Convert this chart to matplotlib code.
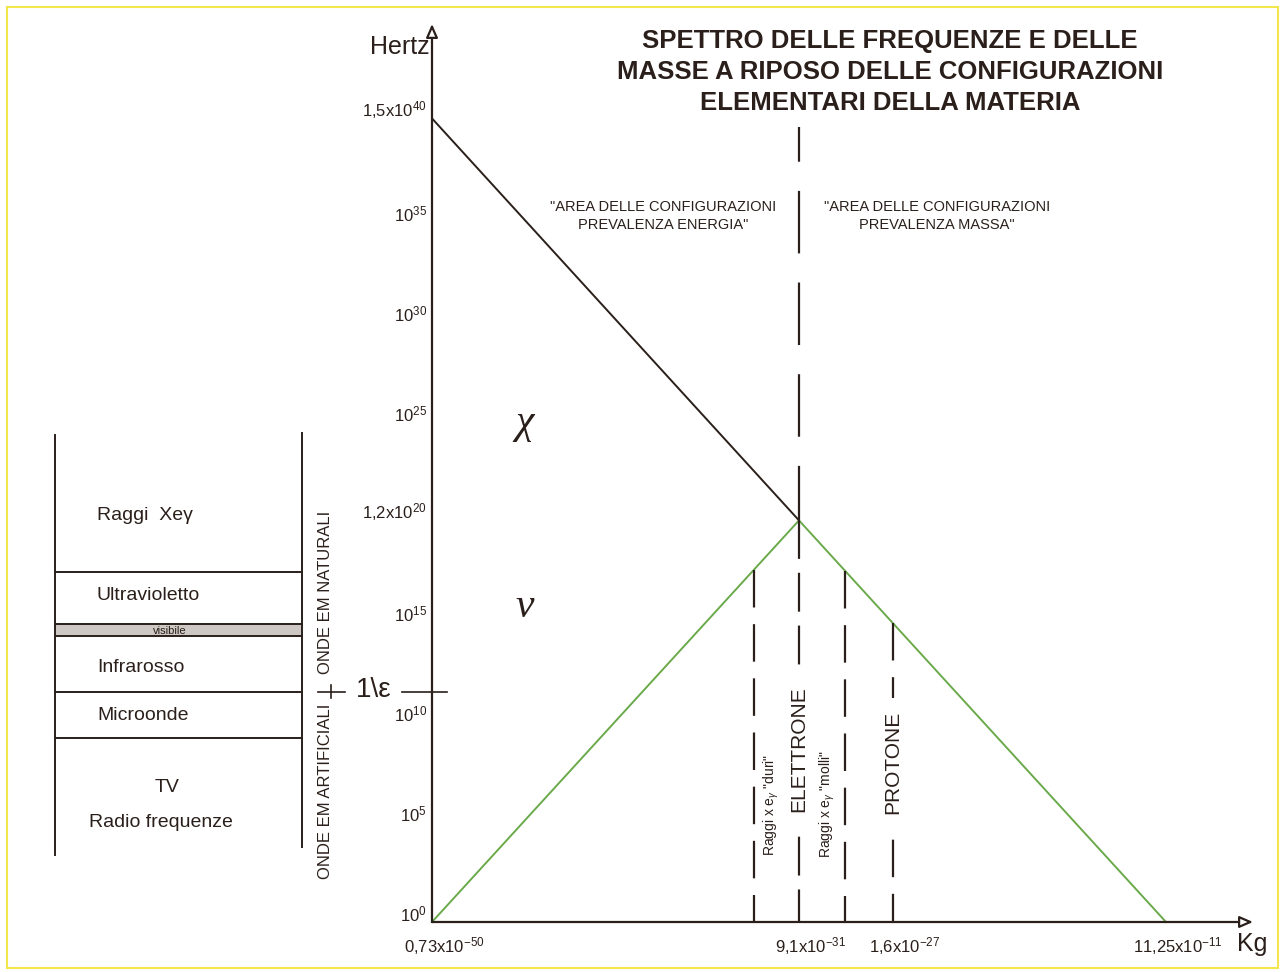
import matplotlib
matplotlib.use("Agg")
import matplotlib.pyplot as plt
import numpy as np
from matplotlib import font_manager
from matplotlib.patches import Rectangle

# ---------------------------------------------------------------------------
# data (y values are log10 of frequency in Hz, x is position along mass axis)
# ---------------------------------------------------------------------------
freq_ticks = [0, 5, 10, 15, 20.08, 25, 30, 35, 40.18]
freq_tick_labels = ["10$^{0}$", "10$^{5}$", "10$^{10}$", "10$^{15}$", "1,2x10$^{20}$",
                    "10$^{25}$", "10$^{30}$", "10$^{35}$", "1,5x10$^{40}$"]

mass_pos = [0, 367, 461, 734]
mass_labels = ["0,73x10$^{-50}$", "9,1x10$^{-31}$", "1,6x10$^{-27}$", "11,25x10$^{-11}$"]

chi_x = [0, 367]
chi_y = [40.18, 20.08]
nu_x = [0, 367, 734]
nu_y = [0, 20.08, 0]

hard_x = 322      # raggi x e gamma "duri"
soft_x = 413      # raggi x e gamma "molli"
electron_x = 367
proton_x = 461
one_eps = 11.5    # 1\epsilon level

band_names = ["Raggi  Xeγ", "Ultravioletto", "visibile", "Infrarosso", "Microonde"]
band_label_y = [20.35, 16.35, 14.55, 12.7, 10.35]
band_edges = [24.35, 17.5, 14.9, 14.3, 11.5, 9.2, 3.35]

# ---------------------------------------------------------------------------
names = {f.name for f in font_manager.fontManager.ttflist}
NARROW = "Liberation Sans Narrow" if "Liberation Sans Narrow" in names else "Liberation Sans"
SANS = "Liberation Sans"

plt.rcParams["font.family"] = [SANS, "DejaVu Sans"]
plt.rcParams["mathtext.fontset"] = "custom"
plt.rcParams["mathtext.rm"] = NARROW
plt.rcParams["mathtext.it"] = NARROW + ":italic"
plt.rcParams["mathtext.bf"] = NARROW + ":bold"
plt.rcParams["lines.scale_dashes"] = False

INK = "#2a1f1a"
GREEN = "#6aaa4a"
PX = 20.0  # pixels per decade


def X(px):
    return px - 432


def Y(py):
    return (922 - py) / PX


fig = plt.figure(figsize=(12.83, 9.72), dpi=100)
ax = fig.add_axes([0, 0, 1, 1])
ax.set_xlim(X(0), X(1283))
ax.set_ylim(Y(972), Y(0))
ax.axis("off")

# yellow frame
fig.patches.append(Rectangle((7 / 1283, 1 - 968 / 972), 1271 / 1283, 961 / 972,
                             transform=fig.transFigure, fill=False,
                             ec="#f3e64a", lw=1.5))

# axes with hollow arrow heads
ax.annotate("", xy=(0, Y(24)), xytext=(0, 0),
            arrowprops=dict(arrowstyle="-|>,head_length=0.8,head_width=0.35",
                            ec=INK, fc="white", lw=1.6, shrinkA=0, shrinkB=0))
ax.annotate("", xy=(X(1253), 0), xytext=(0, 0),
            arrowprops=dict(arrowstyle="-|>,head_length=0.8,head_width=0.35",
                            ec=INK, fc="white", lw=1.6, shrinkA=0, shrinkB=0))
ax.text(X(430), Y(47), "Hertz", ha="right", va="center", fontsize=18, color=INK)
ax.text(X(1252), Y(944), "Kg", ha="center", va="center", fontsize=18, color=INK)

# tick labels
for v, lab in zip(freq_ticks, freq_tick_labels):
    ax.text(X(427), v + 0.4, lab, ha="right", va="center", fontsize=12,
            family=NARROW, color=INK)
for x, lab in zip(mass_pos, mass_labels):
    ax.text(x + 12, Y(946), lab, ha="center", va="center", fontsize=12,
            family=NARROW, color=INK)

# main curves
ax.plot(chi_x, chi_y, color=INK, lw=1.4, solid_capstyle="butt")
ax.plot(nu_x, nu_y, color=GREEN, lw=1.4)

# electron line: long dashes above apex, shorter below
ax.plot([electron_x, electron_x], [Y(127), chi_y[-1]], color=INK, lw=1.6,
        linestyle=(20, (45, 21)), dash_capstyle="butt")
ax.plot([electron_x, electron_x], [chi_y[-1], 0], color=INK, lw=1.6,
        linestyle=(0, (28, 10)), dash_capstyle="butt")

for x in (hard_x, soft_x, proton_x):
    top = np.interp(x, nu_x, nu_y)
    ax.plot([x, x], [top, 0], color=INK, lw=1.6, linestyle=(0, (27, 12)),
            dash_capstyle="butt")

# vertical labels
box = dict(fc="white", ec="none", pad=9)
ax.text(electron_x, Y(749), "ELETTRONE", rotation=90, ha="center", va="center",
        fontsize=15, color=INK, bbox=box)
ax.text(proton_x, Y(762), "PROTONE", rotation=90, ha="center", va="center",
        fontsize=15, color=INK, bbox=box)
ax.text(X(771), Y(805), 'Raggi x e$_{\\gamma}$ "duri"', rotation=90, ha="center",
        va="center", fontsize=10, color=INK)
ax.text(X(827), Y(804), 'Raggi x e$_{\\gamma}$ "molli"', rotation=90, ha="center",
        va="center", fontsize=10, color=INK)

# area notes
ax.text(X(663), Y(216), '"AREA DELLE CONFIGURAZIONI\nPREVALENZA ENERGIA"', ha="center",
        va="center", fontsize=10.5, family=NARROW, color=INK, linespacing=1.45)
ax.text(X(937), Y(216), '"AREA DELLE CONFIGURAZIONI\nPREVALENZA MASSA"', ha="center",
        va="center", fontsize=10.5, family=NARROW, color=INK, linespacing=1.45)

ax.text(X(525), Y(423), "χ", ha="center", va="center", fontsize=30,
        family="Liberation Serif", style="italic", color=INK)
ax.text(X(525), Y(607), "ν", ha="center", va="center", fontsize=30,
        family="Liberation Serif", style="italic", color=INK)

# title
ax.text(X(890), Y(72), "SPETTRO DELLE FREQUENZE E DELLE\nMASSE A RIPOSO DELLE CONFIGURAZIONI\n"
        "ELEMENTARI DELLA MATERIA", ha="center", va="center", fontsize=18.5,
        family=NARROW, fontweight="bold", color=INK, linespacing=1.38)

# left panel: electromagnetic spectrum
left, right = X(55), X(302)
ax.plot([left, left], [band_edges[0], band_edges[-1]], color=INK, lw=1.4)
ax.plot([right, right], [Y(433), Y(847)], color=INK, lw=1.4)
ax.fill_between([left, right], band_edges[3], band_edges[2], color="#cdc8c3", lw=0)
for e in band_edges[1:6]:
    ax.plot([left, right], [e, e], color=INK, lw=1.4)

for name, m in zip(band_names, band_label_y):
    if name == "visibile":
        ax.text(X(170), m, name, ha="center", va="center", fontsize=8, color=INK)
    else:
        ax.text(X(97), m, name, ha="left", va="center", fontsize=14, color=INK)
ax.text(X(167), Y(787), "TV", ha="center", va="center", fontsize=14, color=INK)
ax.text(X(161), Y(822), "Radio frequenze", ha="center", va="center", fontsize=14, color=INK)

ax.text(X(326), Y(592), "ONDE EM NATURALI", rotation=90, ha="center", va="center",
        fontsize=12, color=INK)
ax.text(X(326), Y(791), "ONDE EM ARTIFICIALI", rotation=90, ha="center", va="center",
        fontsize=12, color=INK)

# 1\epsilon marker
ax.plot([X(331), X(331)], [Y(685), Y(698)], color=INK, lw=1.2)
ax.plot([X(318), X(345)], [one_eps, one_eps], color=INK, lw=1.2)
ax.plot([X(402), X(447)], [one_eps, one_eps], color=INK, lw=1.2)
ax.text(X(374), one_eps + 0.1, "1\\ε", ha="center", va="center", fontsize=20, color=INK)

fig.savefig("out.png", dpi=100)
